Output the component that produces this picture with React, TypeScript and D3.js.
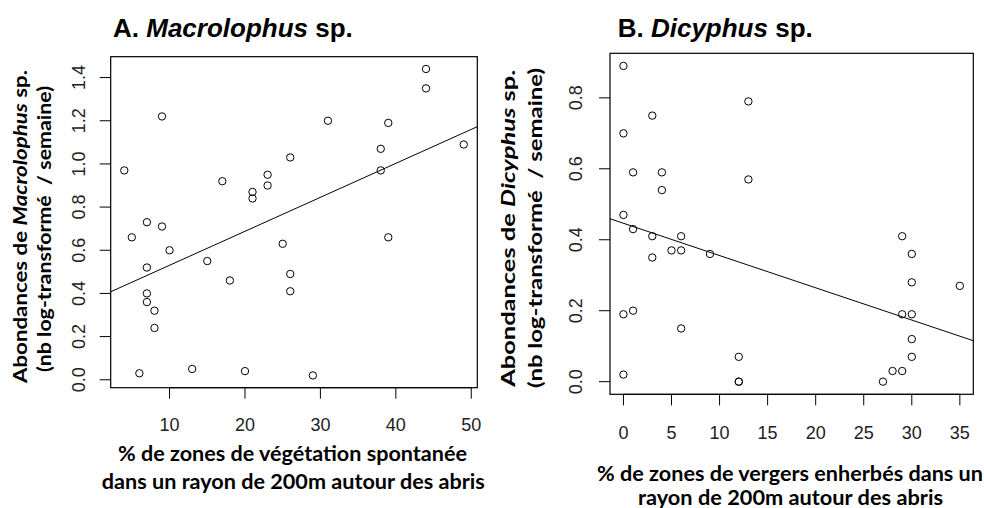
import React from "react";
import * as d3 from "d3";

// ---------- DATA ----------
const macroX = [4, 5, 6, 7, 7, 7, 7, 8, 8, 9, 9, 10, 13, 15, 17, 18, 20, 21, 21, 23, 23, 25, 26, 26, 26, 29, 31, 38, 38, 39, 39, 44, 44, 49];
const macroY = [0.97, 0.66, 0.03, 0.73, 0.52, 0.40, 0.36, 0.32, 0.24, 1.22, 0.71, 0.60, 0.05, 0.55, 0.92, 0.46, 0.04, 0.87, 0.84, 0.95, 0.90, 0.63, 1.03, 0.49, 0.41, 0.02, 1.20, 1.07, 0.97, 1.19, 0.66, 1.44, 1.35, 1.09];
const macroXTicks = [10, 20, 30, 40, 50];
const macroYTicks = [0, 0.2, 0.4, 0.6, 0.8, 1.0, 1.2, 1.4];

const dicyX = [0, 0, 0, 0, 0, 1, 1, 1, 3, 3, 3, 4, 4, 5, 6, 6, 6, 9, 12, 12, 12, 13, 13, 27, 28, 29, 29, 29, 30, 30, 30, 30, 30, 35];
const dicyY = [0.89, 0.70, 0.47, 0.19, 0.02, 0.59, 0.43, 0.20, 0.75, 0.41, 0.35, 0.59, 0.54, 0.37, 0.41, 0.37, 0.15, 0.36, 0.07, 0, 0, 0.79, 0.57, 0, 0.03, 0.41, 0.19, 0.03, 0.36, 0.28, 0.19, 0.12, 0.07, 0.27];
const dicyXTicks = [0, 5, 10, 15, 20, 25, 30, 35];
const dicyYTicks = [0, 0.2, 0.4, 0.6, 0.8];

const ARIAL = "'Liberation Sans', Arial, sans-serif";
const CALIBRI = "Lato, Carlito, Calibri, sans-serif";

function ext(v: number[]): [number, number] {
  const [a, b] = d3.extent(v) as [number, number];
  const p = (b - a) * 0.04;
  return [a - p, b + p];
}

function fit(xs: number[], ys: number[]) {
  const mx = d3.mean(xs) as number;
  const my = d3.mean(ys) as number;
  let sxy = 0, sxx = 0;
  xs.forEach((x, i) => {
    sxy += (x - mx) * (ys[i] - my);
    sxx += (x - mx) * (x - mx);
  });
  const b = sxy / sxx;
  return { a: my - b * mx, b };
}

type PanelProps = {
  xs: number[];
  ys: number[];
  xTicks: number[];
  yTicks: number[];
  box: { l: number; r: number; t: number; b: number };
  xTickBase: number;
  yTickBase: number;
  id: string;
};

function Panel({ xs, ys, xTicks, yTicks, box, xTickBase, yTickBase, id }: PanelProps) {
  const x = d3.scaleLinear().domain(ext(xs)).range([box.l, box.r]);
  const y = d3.scaleLinear().domain(ext(ys)).range([box.b, box.t]);
  const { a, b } = fit(xs, ys);
  const [x0, x1] = x.domain();
  const line = d3.line<number>().x((d) => x(d)).y((d) => y(a + b * d));
  const tl = 11;
  return (
    <g>
      <defs>
        <clipPath id={id}>
          <rect x={box.l} y={box.t} width={box.r - box.l} height={box.b - box.t} />
        </clipPath>
      </defs>
      <rect x={box.l} y={box.t} width={box.r - box.l} height={box.b - box.t} fill="none" stroke="#000" strokeWidth={1.2} />
      <line x1={x(xTicks[0])} x2={x(xTicks[xTicks.length - 1])} y1={box.b} y2={box.b} stroke="#000" />
      {xTicks.map((t) => (
        <g key={"xt" + t}>
          <line x1={x(t)} x2={x(t)} y1={box.b} y2={box.b + tl} stroke="#000" />
          <text x={x(t)} y={xTickBase} textAnchor="middle" fontFamily={ARIAL} fontSize={18} fill="#222">
            {String(t)}
          </text>
        </g>
      ))}
      {yTicks.map((t) => (
        <g key={"yt" + t}>
          <line x1={box.l - tl} x2={box.l} y1={y(t)} y2={y(t)} stroke="#000" />
          <text
            transform={`translate(${yTickBase},${y(t)}) rotate(-90)`}
            textAnchor="middle"
            fontFamily={ARIAL}
            fontSize={18}
            fill="#222"
          >
            {t.toFixed(1)}
          </text>
        </g>
      ))}
      <path d={line([x0, x1]) as string} fill="none" stroke="#000" strokeWidth={1} clipPath={`url(#${id})`} />
      {xs.map((v, i) => (
        <circle key={i} cx={x(v)} cy={y(ys[i])} r={3.7} fill="none" stroke="#000" strokeWidth={1} />
      ))}
    </g>
  );
}

function RotLabel({ x, cy, len, children }: { x: number; cy: number; len: number; children: React.ReactNode }) {
  return (
    <text
      transform={`translate(${x},${cy}) rotate(-90)`}
      textAnchor="middle"
      fontFamily={CALIBRI}
      fontWeight="bold"
      fontSize={19}
      textLength={len}
      lengthAdjust="spacingAndGlyphs"
      style={{ whiteSpace: "pre" }}
      fill="#000"
    >
      {children}
    </text>
  );
}

function HLabel({ cx, y, len, children }: { cx: number; y: number; len: number; children: React.ReactNode }) {
  return (
    <text
      x={cx}
      y={y}
      textAnchor="middle"
      fontFamily={CALIBRI}
      fontWeight="bold"
      fontSize={20}
      textLength={len}
      lengthAdjust="spacingAndGlyphs"
      fill="#000"
    >
      {children}
    </text>
  );
}

export default function App() {
  return (
    <svg width={984} height={508} style={{ position: "absolute", left: 0, top: 0, background: "#fff" }}>
      <rect width={984} height={508} fill="#fff" />
      <text x={113} y={37} fontFamily={ARIAL} fontWeight="bold" fontSize={26} fill="#000">
        A. <tspan fontStyle="italic">Macrolophus</tspan> sp.
      </text>
      <Panel
        id="clipA"
        xs={macroX}
        ys={macroY}
        xTicks={macroXTicks}
        yTicks={macroYTicks}
        box={{ l: 110.7, r: 477.3, t: 56.7, b: 387.7 }}
        xTickBase={431}
        yTickBase={85}
      />
      <RotLabel x={27} cy={226.5} len={313}>
        Abondances de <tspan fontStyle="italic">Macrolophus</tspan> sp.
      </RotLabel>
      <RotLabel x={51} cy={229} len={286}>
        {"(nb log-transformé  / semaine)"}
      </RotLabel>
      <HLabel cx={292.5} y={461} len={349}>% de zones de végétation spontanée</HLabel>
      <HLabel cx={293.3} y={489} len={383}>dans un rayon de 200m autour des abris</HLabel>

      <text x={617.7} y={37} fontFamily={ARIAL} fontWeight="bold" fontSize={26} fill="#000">
        B. <tspan fontStyle="italic">Dicyphus</tspan> sp.
      </text>
      <Panel
        id="clipB"
        xs={dicyX}
        ys={dicyY}
        xTicks={dicyXTicks}
        yTicks={dicyYTicks}
        box={{ l: 610, r: 973.3, t: 53.3, b: 394.3 }}
        xTickBase={438.5}
        yTickBase={582}
      />
      <RotLabel x={515} cy={228.3} len={317}>
        Abondances de <tspan fontStyle="italic">Dicyphus</tspan> sp.
      </RotLabel>
      <RotLabel x={542} cy={228} len={320}>
        {"(nb log-transformé  / semaine)"}
      </RotLabel>
      <HLabel cx={790} y={481} len={386}>% de zones de vergers enherbés dans un</HLabel>
      <HLabel cx={790.5} y={505} len={305}>rayon de 200m autour des abris</HLabel>
    </svg>
  );
}
